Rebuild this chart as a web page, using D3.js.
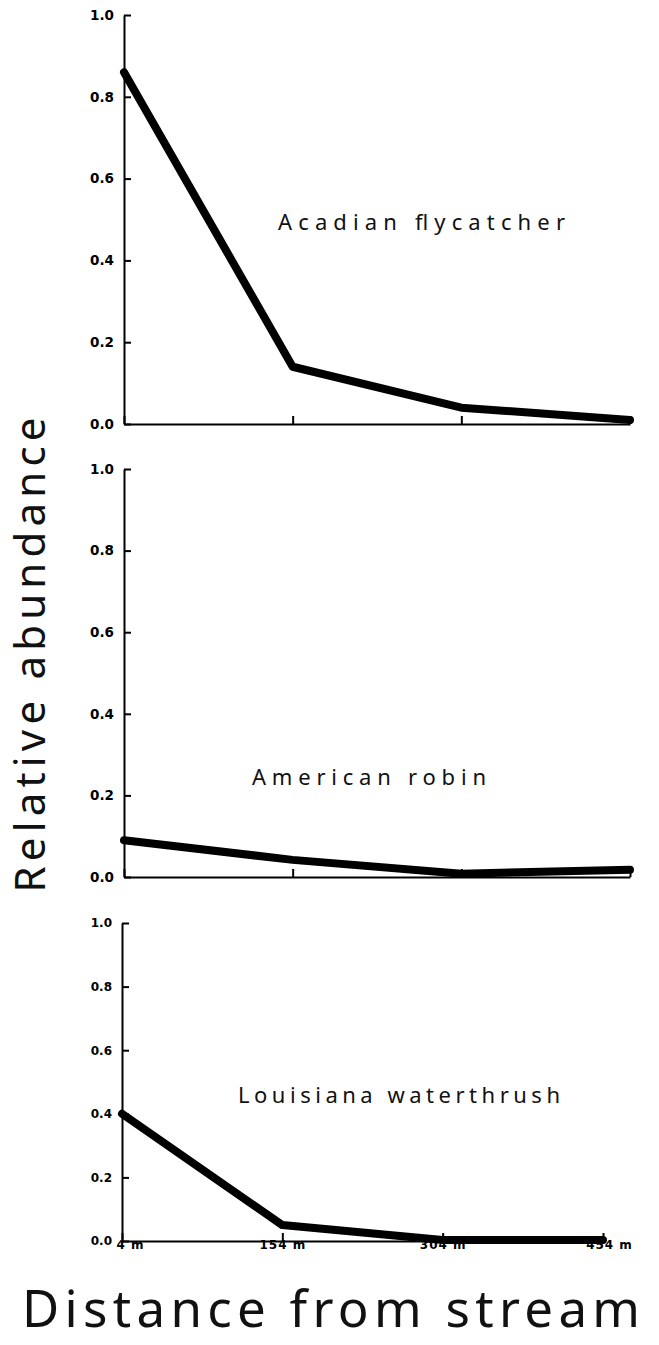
<!DOCTYPE html>
<html>
<head>
<meta charset="utf-8">
<script src="https://cdn.jsdelivr.net/npm/d3@7"></script>
<style>
	body { margin: 0; background: #fff; }
	svg { display: block; }
	.tick text { font-family: "DejaVu Sans", sans-serif; font-weight: bold; fill: #000; }
	.label { font-family: "Noto Sans", sans-serif; fill: #111; }
</style>
</head>
<body>
<svg id="chart" width="659" height="1345"></svg>
<script>
	/* Data */
	let distances = [4, 154, 304, 454];
	let distanceLabels = ["4 m", "154 m", "304 m", "454 m"];
	let yTicks = [0, 0.2, 0.4, 0.6, 0.8, 1.0];
	let species = ["Acadian flycatcher", "American robin", "Louisiana waterthrush"];
	let flycatcher = [0.86, 0.14, 0.04, 0.01];
	let robin = [0.09, 0.042, 0.008, 0.018];
	let waterthrush = [0.40, 0.05, 0.003, 0.003];

	let seriesValues = [flycatcher, robin, waterthrush];

	// Panel boxes
	let panels = [
		{ x0: 124, x1: 630, y0: 15, y1: 424, fs: 13.5, label: { x: 278, y: 230, len: 287 } },
		{ x0: 124, x1: 630, y0: 469, y1: 877, fs: 13.5, label: { x: 252, y: 785, len: 234 } },
		{ x0: 122, x1: 603, y0: 923, y1: 1241, fs: 12, label: { x: 238, y: 1103, len: 322 } }
	];

	let svg = d3.select("#chart");

	panels.forEach(function(p, i) {
		let x = d3.scaleLinear().domain([4, 454]).range([p.x0, p.x1]);
		let y = d3.scaleLinear().domain([0, 1]).range([p.y1, p.y0]);
		let g = svg.append("g");

		// Y axis, ticks point inward
		let yAxis = d3.axisLeft(y)
			.tickValues(yTicks)
			.tickFormat(d3.format(".1f"))
			.tickSizeInner(-7)
			.tickSizeOuter(0)
			.tickPadding(10);
		let ya = g.append("g")
			.attr("transform", "translate(" + p.x0 + ",0)")
			.call(yAxis);
		ya.selectAll("text").style("font-size", p.fs + "px");
		ya.select(".domain").attr("stroke-width", 2);
		ya.selectAll(".tick line").attr("stroke-width", 2);

		// X axis, ticks point up
		let isLast = i === panels.length - 1;
		let xAxis = d3.axisBottom(x)
			.tickValues(distances)
			.tickFormat(function(d, j) { return isLast ? distanceLabels[j] : ""; })
			.tickSizeInner(-8)
			.tickSizeOuter(0)
			.tickPadding(2);
		let xa = g.append("g")
			.attr("transform", "translate(0," + p.y1 + ")")
			.call(xAxis);
		xa.select(".domain").attr("stroke-width", 2);
		xa.selectAll(".tick line").attr("stroke-width", 2);
		xa.selectAll("text")
			.style("font-size", "12px")
			.style("letter-spacing", "1px")
			.attr("dy", "0.5em")
			.attr("dx", function(d, j) { return j === 0 ? "8px" : j === 3 ? "6px" : "0"; });

		// Series line
		let line = d3.line()
			.x(function(d, j) { return x(distances[j]); })
			.y(function(d) { return y(d); });
		g.append("path")
			.datum(seriesValues[i])
			.attr("d", line)
			.attr("fill", "none")
			.attr("stroke", "#000")
			.attr("stroke-width", 8)
			.attr("stroke-linejoin", "round")
			.attr("stroke-linecap", "round");

		// Species name
		g.append("text")
			.attr("class", "label")
			.attr("x", p.label.x)
			.attr("y", p.label.y)
			.attr("textLength", p.label.len)
			.attr("lengthAdjust", "spacing")
			.style("font-size", "22px")
			.text(species[i]);
	});

	// Axis titles
	svg.append("text")
		.attr("class", "label")
		.attr("transform", "translate(45,655) rotate(-90)")
		.attr("text-anchor", "middle")
		.attr("textLength", 475)
		.attr("lengthAdjust", "spacing")
		.style("font-size", "42px")
		.text("Relative abundance");

	svg.append("text")
		.attr("class", "label")
		.attr("x", 22)
		.attr("y", 1327)
		.attr("textLength", 618)
		.attr("lengthAdjust", "spacing")
		.style("font-size", "51px")
		.text("Distance from stream");
</script>
</body>
</html>
